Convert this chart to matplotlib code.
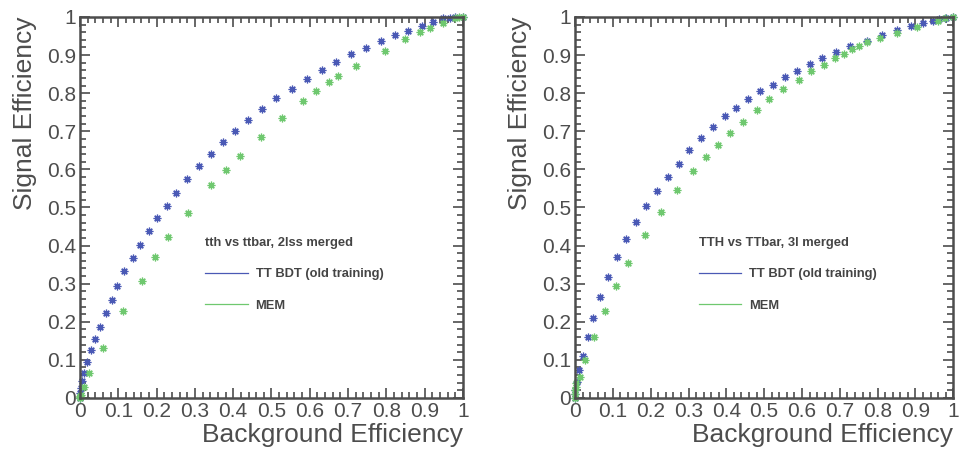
import numpy as np
import matplotlib
matplotlib.use('Agg')
import matplotlib.pyplot as plt
from matplotlib.lines import Line2D
from matplotlib.ticker import MultipleLocator

plt.rcParams['font.family'] = ['Liberation Sans', 'DejaVu Sans']

# left panel: tth vs ttbar, 2lss
bkg_bdt_2lss = [0.0, 0.001, 0.002, 0.006, 0.011, 0.019, 0.029, 0.040, 0.053, 0.068, 0.083,
                0.097, 0.116, 0.138, 0.158, 0.180, 0.202, 0.227, 0.252, 0.280, 0.310,
                0.341, 0.373, 0.405, 0.438, 0.475, 0.513, 0.554, 0.594, 0.631, 0.669,
                0.707, 0.746, 0.785, 0.822, 0.857, 0.893, 0.921, 0.949, 0.966, 0.980, 1.0]
sig_bdt_2lss = [0.0, 0.012, 0.027, 0.045, 0.066, 0.094, 0.126, 0.154, 0.187, 0.222, 0.258,
                0.293, 0.332, 0.368, 0.402, 0.438, 0.472, 0.503, 0.539, 0.574, 0.608,
                0.640, 0.671, 0.700, 0.729, 0.758, 0.787, 0.812, 0.836, 0.860, 0.882,
                0.903, 0.919, 0.936, 0.953, 0.964, 0.976, 0.986, 0.996, 0.998, 1.0, 1.0]
bkg_mem_2lss = [0.0, 0.0, 0.001, 0.002, 0.011, 0.023, 0.059, 0.113, 0.161, 0.196, 0.231,
                0.281, 0.342, 0.381, 0.418, 0.473, 0.527, 0.581, 0.617, 0.649, 0.673,
                0.721, 0.796, 0.849, 0.888, 0.914, 0.947, 0.979, 0.990, 1.0]
sig_mem_2lss = [0.0, 0.002, 0.005, 0.008, 0.030, 0.065, 0.132, 0.228, 0.308, 0.369, 0.423,
                0.485, 0.558, 0.599, 0.635, 0.684, 0.734, 0.779, 0.805, 0.828, 0.844,
                0.871, 0.911, 0.941, 0.960, 0.970, 0.984, 0.997, 1.0, 1.0]

# right panel: TTH vs TTbar, 3l
bkg_bdt_3l = [0.0, 0.0, 0.001, 0.004, 0.011, 0.020, 0.034, 0.048, 0.067, 0.088, 0.112,
              0.136, 0.161, 0.188, 0.218, 0.247, 0.275, 0.302, 0.333, 0.366, 0.396,
              0.426, 0.457, 0.488, 0.523, 0.556, 0.588, 0.621, 0.653, 0.689, 0.728,
              0.771, 0.811, 0.851, 0.888, 0.919, 0.946, 0.963, 0.981, 1.0]
sig_bdt_3l = [0.0, 0.010, 0.022, 0.043, 0.073, 0.109, 0.159, 0.209, 0.264, 0.317, 0.369,
              0.417, 0.461, 0.503, 0.542, 0.579, 0.614, 0.652, 0.682, 0.712, 0.740,
              0.762, 0.784, 0.806, 0.822, 0.843, 0.859, 0.876, 0.891, 0.907, 0.924,
              0.938, 0.953, 0.966, 0.976, 0.985, 0.990, 0.994, 0.998, 1.0]
bkg_mem_3l = [0.0, 0.0, 0.001, 0.002, 0.003, 0.013, 0.027, 0.051, 0.080, 0.109, 0.139,
              0.185, 0.227, 0.270, 0.311, 0.347, 0.377, 0.410, 0.445, 0.480, 0.514,
              0.551, 0.593, 0.624, 0.658, 0.686, 0.712, 0.732, 0.752, 0.773, 0.805,
              0.851, 0.904, 0.959, 0.979, 1.0]
sig_mem_3l = [0.0, 0.010, 0.020, 0.030, 0.040, 0.056, 0.100, 0.159, 0.227, 0.294, 0.355,
              0.428, 0.487, 0.545, 0.595, 0.633, 0.663, 0.695, 0.724, 0.755, 0.786,
              0.810, 0.835, 0.857, 0.875, 0.891, 0.904, 0.915, 0.924, 0.933, 0.944,
              0.959, 0.974, 0.990, 0.997, 1.0]

blue = '#4a59b5'
green = '#6fc86f'
gray = '#4d4d4d'
star = (8, 2, 0)

fig = plt.figure(figsize=(9.6, 4.5), dpi=100)
ax1 = fig.add_axes([0.0833, 0.1156, 0.399, 0.8467])
ax2 = fig.add_axes([0.599, 0.1156, 0.394, 0.8467])

panels = [(ax1, bkg_bdt_2lss, sig_bdt_2lss, bkg_mem_2lss, sig_mem_2lss, 'tth vs ttbar, 2lss merged'),
          (ax2, bkg_bdt_3l, sig_bdt_3l, bkg_mem_3l, sig_mem_3l, 'TTH vs TTbar, 3l merged')]

fmt = lambda v, p: '0' if abs(v) < 1e-9 else ('1' if abs(v - 1) < 1e-9 else '%g' % v)

for ax, bx, by, mx, my, title in panels:
    ax.plot(bx, by, ls='none', marker=star, ms=5.5, mew=0.9, color=blue, clip_on=False)
    ax.plot(mx, my, ls='none', marker=star, ms=5.5, mew=0.9, color=green, clip_on=False)
    ax.set_xlim(0, 1)
    ax.set_ylim(0, 1)
    ax.xaxis.set_major_locator(MultipleLocator(0.1))
    ax.xaxis.set_minor_locator(MultipleLocator(0.02))
    ax.yaxis.set_major_locator(MultipleLocator(0.1))
    ax.yaxis.set_minor_locator(MultipleLocator(0.02))
    ax.xaxis.set_major_formatter(plt.FuncFormatter(fmt))
    ax.yaxis.set_major_formatter(plt.FuncFormatter(fmt))
    ax.tick_params(which='both', direction='in', top=True, right=True, color=gray,
                   width=1.2, labelcolor=gray, labelsize=15)
    ax.tick_params(which='major', length=7)
    ax.tick_params(which='minor', length=4)
    ax.tick_params(axis='x', pad=3)
    ax.tick_params(axis='y', pad=3)
    for s in ax.spines.values():
        s.set_color(gray)
        s.set_linewidth(1.8)
    ax.set_xlabel('Background Efficiency', loc='right', fontsize=19, color=gray, labelpad=1)
    ax.set_ylabel('Signal Efficiency', loc='top', fontsize=19, color=gray, labelpad=7)
    handles = [Line2D([], [], color=blue, lw=0.9), Line2D([], [], color=green, lw=0.9)]
    leg = ax.legend(handles, ['TT BDT (old training)', 'MEM'], title=title,
                    loc='upper left', bbox_to_anchor=(0.31, 0.44), frameon=False,
                    prop={'weight': 'bold', 'size': 9.3}, handlelength=3.3,
                    handletextpad=0.6, labelspacing=1.5, borderpad=0)
    leg.get_title().set_fontweight('bold')
    leg.get_title().set_fontsize(9.3)
    leg.get_title().set_color('#444444')
    leg._legend_box.align = 'left'
    for t in leg.get_texts():
        t.set_color('#444444')

fig.savefig('out.png', dpi=100)
